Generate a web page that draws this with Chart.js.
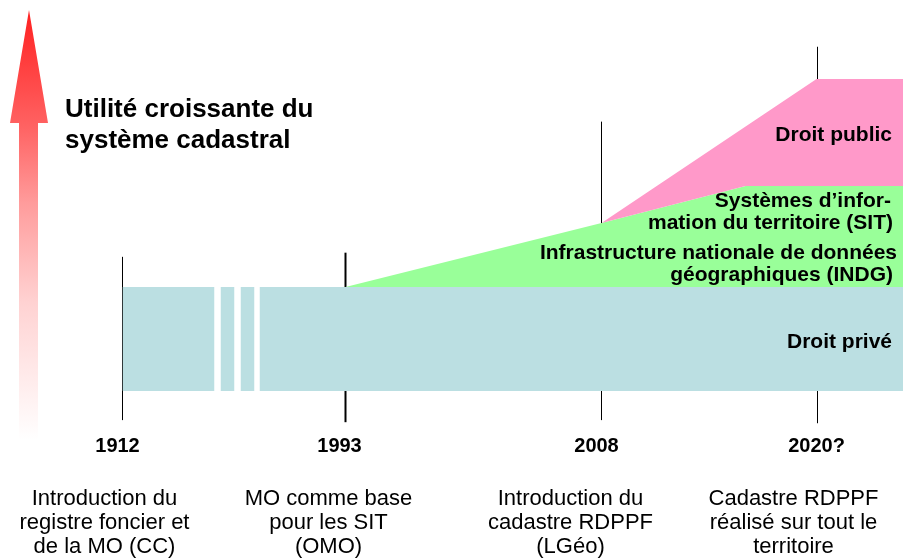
<!DOCTYPE html>
<html lang="fr">
<head>
<meta charset="utf-8">
<script src="https://cdn.jsdelivr.net/npm/chart.js@4.4.1/dist/chart.umd.min.js"></script>
<style>
  html, body { margin: 0; padding: 0; background: #fff; }
  #wrap { width: 903px; height: 559px; }
</style>
</head>
<body>
<div id="wrap"><canvas id="cadastre" width="903" height="559"></canvas></div>
<script>
// Jalons de la frise
const annees = ['1912', '1993', '2008', '2020?'];
const posJalons = [122, 345, 601, 817];        // position sur la frise
const hautTraits = [1.29, 1.33, 2.59, 3.31];   // haut des traits (niveau d'utilité)
const basTraits = [-0.28, -0.30, -0.28, -0.31];
const epaisseurTraits = [1, 2, 1, 1];
const descriptions = [
    ['Introduction du', 'registre foncier et', 'de la MO (CC)'],
    ['MO comme base', 'pour les SIT', '(OMO)'],
    ['Introduction du', 'cadastre RDPPF', '(LGéo)'],
    ['Cadastre RDPPF', 'réalisé sur tout le', 'territoire']
];

// Droit privé : bande coupée (début, fin), niveau 0 -> 1
const droitPrive = [[122, 214], [220, 234], [240, 254], [259, 903]];
// INDG + SIT : niveau 1 -> 2
const infraX = [345, 601, 745, 903];
const infraY = [1, 1.615, 1.97, 1.97];
// Droit public : niveau 2 -> 3
const publicX = [601, 816, 903];
const publicY = [1.615, 3, 3];

const police = "'Liberation Sans', Arial, sans-serif";
const couleurPrive = '#bbdfe2';
const couleurInfra = '#99ff99';
const couleurPublic = '#ff99c9';

const points = (xs, ys) => xs.map((x, i) => ({ x: x, y: ys[i] }));

let datasets = [];

// Traits verticaux des jalons (dessinés en dessous)
posJalons.forEach((x, i) => {
    datasets.push({
        data: [{ x: x, y: basTraits[i] }, { x: x, y: hautTraits[i] }],
        borderColor: '#000',
        borderWidth: epaisseurTraits[i],
        fill: false,
        order: 10
    });
});

// Bande du droit privé
droitPrive.forEach(seg => {
    datasets.push({
        data: [{ x: seg[0], y: 1 }, { x: seg[1], y: 1 }],
        borderColor: 'rgba(0,0,0,0)',
        backgroundColor: couleurPrive,
        fill: { value: 0 },
        order: 5
    });
});

// INDG / SIT
datasets.push({
    data: points(infraX, infraY),
    borderColor: 'rgba(0,0,0,0)',
    backgroundColor: couleurInfra,
    fill: { value: 1 },
    order: 4
});

// Droit public (rempli jusqu'à la courbe précédente)
datasets.push({
    data: points(publicX, publicY),
    borderColor: 'rgba(0,0,0,0)',
    backgroundColor: couleurPublic,
    fill: '-1',
    order: 3
});

// Flèche, titre et textes
const decor = {
    id: 'decor',
    beforeDatasetsDraw(chart) {
        const ctx = chart.ctx;
        ctx.save();
        const grad = ctx.createLinearGradient(0, 10, 0, 440);
        grad.addColorStop(0, '#ff2020');
        grad.addColorStop(0.27, '#ff6262');
        grad.addColorStop(0.45, '#ff9c9c');
        grad.addColorStop(0.68, '#ffd2d2');
        grad.addColorStop(1, '#ffffff');
        ctx.fillStyle = grad;
        ctx.beginPath();
        ctx.moveTo(29, 10);
        ctx.lineTo(48, 123);
        ctx.lineTo(38, 123);
        ctx.lineTo(38, 440);
        ctx.lineTo(19, 440);
        ctx.lineTo(19, 123);
        ctx.lineTo(10, 123);
        ctx.closePath();
        ctx.fill();
        ctx.restore();
    },
    afterDraw(chart) {
        const ctx = chart.ctx;
        const xs = chart.scales.x;
        ctx.save();
        ctx.fillStyle = '#000';

        // Titre
        ctx.font = 'bold 26px ' + police;
        ctx.textAlign = 'left';
        ctx.textBaseline = 'alphabetic';
        ctx.fillText('Utilité croissante du', 65, 117);
        ctx.fillText('système cadastral', 65, 148);

        // Années
        ctx.font = 'bold 20px ' + police;
        ctx.textAlign = 'center';
        const decalAnnees = [-5, -6, -5, -1];
        annees.forEach((a, i) => {
            ctx.fillText(a, xs.getPixelForValue(posJalons[i]) + decalAnnees[i], 452);
        });

        // Descriptions
        ctx.font = '22px ' + police;
        const decalDesc = [-18, -17, -31, -24];
        descriptions.forEach((lignes, i) => {
            const cx = xs.getPixelForValue(posJalons[i]) + decalDesc[i];
            lignes.forEach((l, j) => ctx.fillText(l, cx, 505 + j * 24));
        });

        // Étiquettes des couches
        ctx.font = 'bold 21px ' + police;
        ctx.textAlign = 'right';
        ctx.fillText('Droit public', 892, 141);
        ctx.fillText('Systèmes d\u2019infor-', 891, 207);
        ctx.fillText('mation du territoire (SIT)', 893, 229);
        ctx.fillText('Infrastructure nationale de données', 897, 259);
        ctx.fillText('géographiques (INDG)', 893, 281);
        ctx.fillText('Droit privé', 892, 348);
        ctx.restore();
    }
};

const chart = new Chart(document.getElementById('cadastre').getContext('2d'), {
    type: 'line',
    data: { datasets: datasets },
    options: {
        responsive: false,
        animation: false,
        events: [],
        layout: { padding: 0 },
        elements: { point: { radius: 0 }, line: { tension: 0 } },
        plugins: {
            legend: { display: false },
            tooltip: { enabled: false }
        },
        scales: {
            // décalage d'un demi-pixel pour des traits nets
            x: { type: 'linear', min: -0.5, max: 902.5, display: false },
            y: { min: -1.6154, max: 3.7596, display: false }
        }
    },
    plugins: [decor]
});
</script>
</body>
</html>
